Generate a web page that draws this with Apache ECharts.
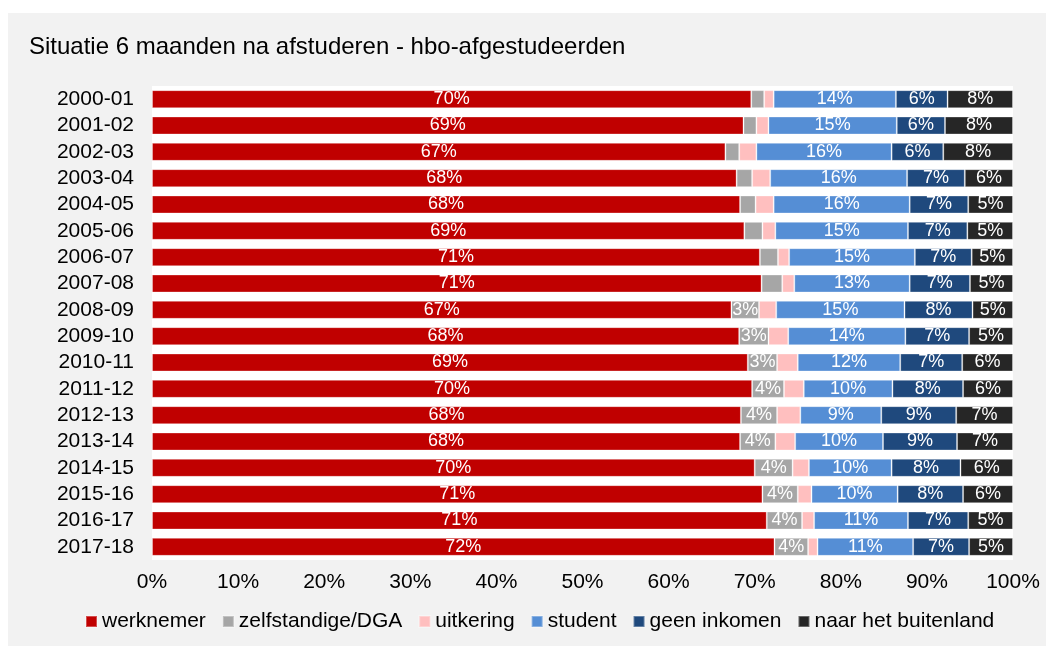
<!DOCTYPE html>
<html>
<head>
<meta charset="utf-8">
<script src="https://cdn.jsdelivr.net/npm/echarts@6/dist/echarts.min.js"></script>
<style>
html, body { margin: 0; padding: 0; background: #fff; }
#chart { width: 1046px; height: 646px; }
</style>
</head>
<body>
<div id="chart"></div>
<script>
var years = ['2000-01', '2001-02', '2002-03', '2003-04', '2004-05', '2005-06', '2006-07', '2007-08', '2008-09',
    '2009-10', '2010-11', '2011-12', '2012-13', '2013-14', '2014-15', '2015-16', '2016-17', '2017-18'];
var werknemer   = [69.6, 68.7, 66.6, 67.9, 68.3, 68.8, 70.6, 70.8, 67.3, 68.2, 69.2, 69.7, 68.4, 68.3, 70.0, 70.9, 71.4, 72.3];
var zelfstandig = [1.5, 1.5, 1.6, 1.8, 1.8, 2.1, 2.1, 2.4, 3.2, 3.4, 3.4, 3.7, 4.2, 4.1, 4.4, 4.1, 4.1, 3.9];
var uitkering   = [1.1, 1.4, 2.0, 2.1, 2.1, 1.5, 1.3, 1.4, 2.0, 2.3, 2.4, 2.3, 2.7, 2.3, 1.9, 1.6, 1.4, 1.1];
var student     = [14.2, 14.9, 15.7, 15.9, 15.8, 15.4, 14.6, 13.4, 14.9, 13.6, 11.9, 10.3, 9.4, 10.2, 9.6, 10.0, 10.9, 11.1];
var geenInkomen = [6.0, 5.6, 6.0, 6.7, 6.8, 6.9, 6.6, 7.0, 7.9, 7.4, 7.2, 8.2, 8.7, 8.6, 8.0, 7.6, 7.0, 6.5];
var buitenland  = [7.6, 7.9, 8.1, 5.6, 5.2, 5.3, 4.8, 5.0, 4.7, 5.1, 5.9, 5.8, 6.6, 6.5, 6.1, 5.8, 5.2, 5.1];
var xTicks = [0, 10, 20, 30, 40, 50, 60, 70, 80, 90, 100];

var font = 'Liberation Sans, Arial, sans-serif';

function makeSeries(name, data, color, showLabel) {
    return {
        name: name,
        type: 'bar',
        stack: 'total',
        barWidth: 18,
        data: data,
        itemStyle: { color: color, borderColor: 'rgba(255,255,255,0.3)', borderWidth: 1 },
        label: {
            show: showLabel,
            position: 'inside',
            color: '#fff',
            fontFamily: font,
            fontSize: 18,
            formatter: function (p) {
                return p.value < 2.9 ? '' : Math.round(p.value) + '%';
            }
        },
        emphasis: { disabled: true }
    };
}

var myChart = echarts.init(document.getElementById('chart'));
myChart.setOption({
    backgroundColor: '#fff',
    animation: false,
    graphic: [{
        type: 'rect',
        left: 8,
        top: 13,
        z: -100,
        silent: true,
        shape: { width: 1038, height: 633 },
        style: { fill: '#f2f2f2' }
    }],
    title: {
        text: 'Situatie 6 maanden na afstuderen - hbo-afgestudeerden',
        left: 29,
        top: 35,
        padding: 0,
        textStyle: { fontFamily: font, fontSize: 24, fontWeight: 'normal', color: '#000' }
    },
    legend: {
        left: 80,
        top: 606,
        itemWidth: 11,
        itemHeight: 11,
        itemGap: 16,
        icon: 'rect',
        textStyle: { fontFamily: font, fontSize: 21, color: '#000' },
        data: ['werknemer', 'zelfstandige/DGA', 'uitkering', 'student', 'geen inkomen', 'naar het buitenland']
    },
    grid: {
        left: 152,
        right: 33,
        top: 86,
        bottom: 86,
        show: true,
        backgroundColor: '#fff',
        borderWidth: 0
    },
    xAxis: {
        type: 'value',
        min: xTicks[0],
        max: xTicks[xTicks.length - 1],
        interval: 10,
        axisLine: { show: false },
        axisTick: { show: false },
        splitLine: { show: false },
        axisLabel: {
            margin: 12,
            color: '#000',
            fontFamily: font,
            fontSize: 21,
            formatter: '{value}%'
        }
    },
    yAxis: {
        type: 'category',
        inverse: true,
        data: years,
        axisLine: { show: false },
        axisTick: { show: false },
        axisLabel: { interval: 0, margin: 18, color: '#000', fontFamily: font, fontSize: 21 }
    },
    series: [
        makeSeries('werknemer', werknemer, '#c00000', true),
        makeSeries('zelfstandige/DGA', zelfstandig, '#a6a6a6', true),
        makeSeries('uitkering', uitkering, '#ffbfbf', false),
        makeSeries('student', student, '#558ed5', true),
        makeSeries('geen inkomen', geenInkomen, '#1f497d', true),
        makeSeries('naar het buitenland', buitenland, '#262626', true)
    ]
});
</script>
</body>
</html>
